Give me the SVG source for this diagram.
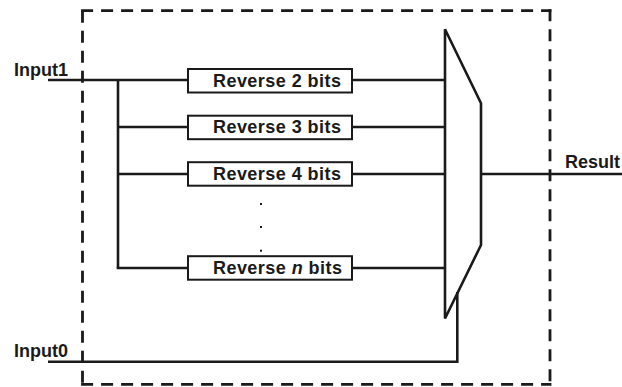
<svg xmlns="http://www.w3.org/2000/svg" width="622" height="387" viewBox="0 0 622 387">
<style>
.wire{stroke:#1a1a1a;stroke-width:2.6;fill:none;stroke-linecap:butt}
.box{fill:#fff;stroke:#1a1a1a;stroke-width:2}
.lbl{font-family:"Liberation Sans",Arial,sans-serif;font-weight:bold;font-size:18px;fill:#1a1a1a}
.btxt{font-family:"Liberation Sans",Arial,sans-serif;font-weight:bold;font-size:18px;fill:#1a1a1a;letter-spacing:0.45px}
.dash{stroke:#1a1a1a;stroke-width:2.8;fill:none;stroke-dasharray:12 8}
</style>
<rect width="622" height="387" fill="#fff"/>
<g id="boundary">
<line class="dash" x1="82.5" y1="10.7" x2="82.5" y2="384.3" stroke-dasharray="10 8 12 8"/>
<line class="dash" x1="81.1" y1="10.7" x2="551.4" y2="10.7" stroke-dasharray="3 13 12 8"/>
<line class="dash" x1="550" y1="9.3" x2="550" y2="385.7" stroke-dasharray="10 8 12 8"/>
<line class="dash" x1="81.1" y1="384.3" x2="551.4" y2="384.3" stroke-dasharray="3 13 12 8"/>
</g>
<g id="connectors">
<line class="wire" x1="48" y1="80" x2="188" y2="80"/>
<line class="wire" x1="118" y1="80" x2="118" y2="268"/>
<line class="wire" x1="118" y1="127" x2="188" y2="127"/>
<line class="wire" x1="118" y1="174" x2="188" y2="174"/>
<line class="wire" x1="116.7" y1="268" x2="188" y2="268"/>
<line class="wire" x1="352" y1="80" x2="445" y2="80"/>
<line class="wire" x1="352" y1="127" x2="445" y2="127"/>
<line class="wire" x1="352" y1="174" x2="445" y2="174"/>
<line class="wire" x1="352" y1="268" x2="445" y2="268"/>
<line class="wire" x1="481" y1="174" x2="622" y2="174"/>
<polyline class="wire" points="48,361.7 457.3,361.7 457.3,292"/>
</g>
<g id="input1"><text class="lbl" x="14" y="75.7">Input1</text></g>
<g id="input0"><text class="lbl" x="14" y="356.7">Input0</text></g>
<g id="result"><text class="lbl" x="565" y="168">Result</text></g>
<g id="rev2"><rect class="box" x="188" y="69" width="164" height="23.5"/><text class="btxt" x="213" y="86.7">Reverse 2 bits</text></g>
<g id="rev3"><rect class="box" x="188" y="115.7" width="164" height="23.5"/><text class="btxt" x="213" y="133.4">Reverse 3 bits</text></g>
<g id="rev4"><rect class="box" x="188" y="162.2" width="164" height="23.5"/><text class="btxt" x="213" y="179.9">Reverse 4 bits</text></g>
<g id="dots" fill="#1a1a1a">
<rect x="260" y="203" width="2" height="2"/>
<rect x="260" y="226" width="2" height="2"/>
<rect x="260" y="249.7" width="2" height="2"/>
</g>
<g id="revn"><rect class="box" x="188" y="256.2" width="164" height="23.5"/><text class="btxt" x="213" y="273.9">Reverse <tspan font-style="italic">n</tspan> bits</text></g>
<g id="mux"><polygon class="wire" stroke-width="2.8" stroke-linejoin="miter" points="445,29.3 481,103.3 481,245 445,318.5"/></g>
</svg>
